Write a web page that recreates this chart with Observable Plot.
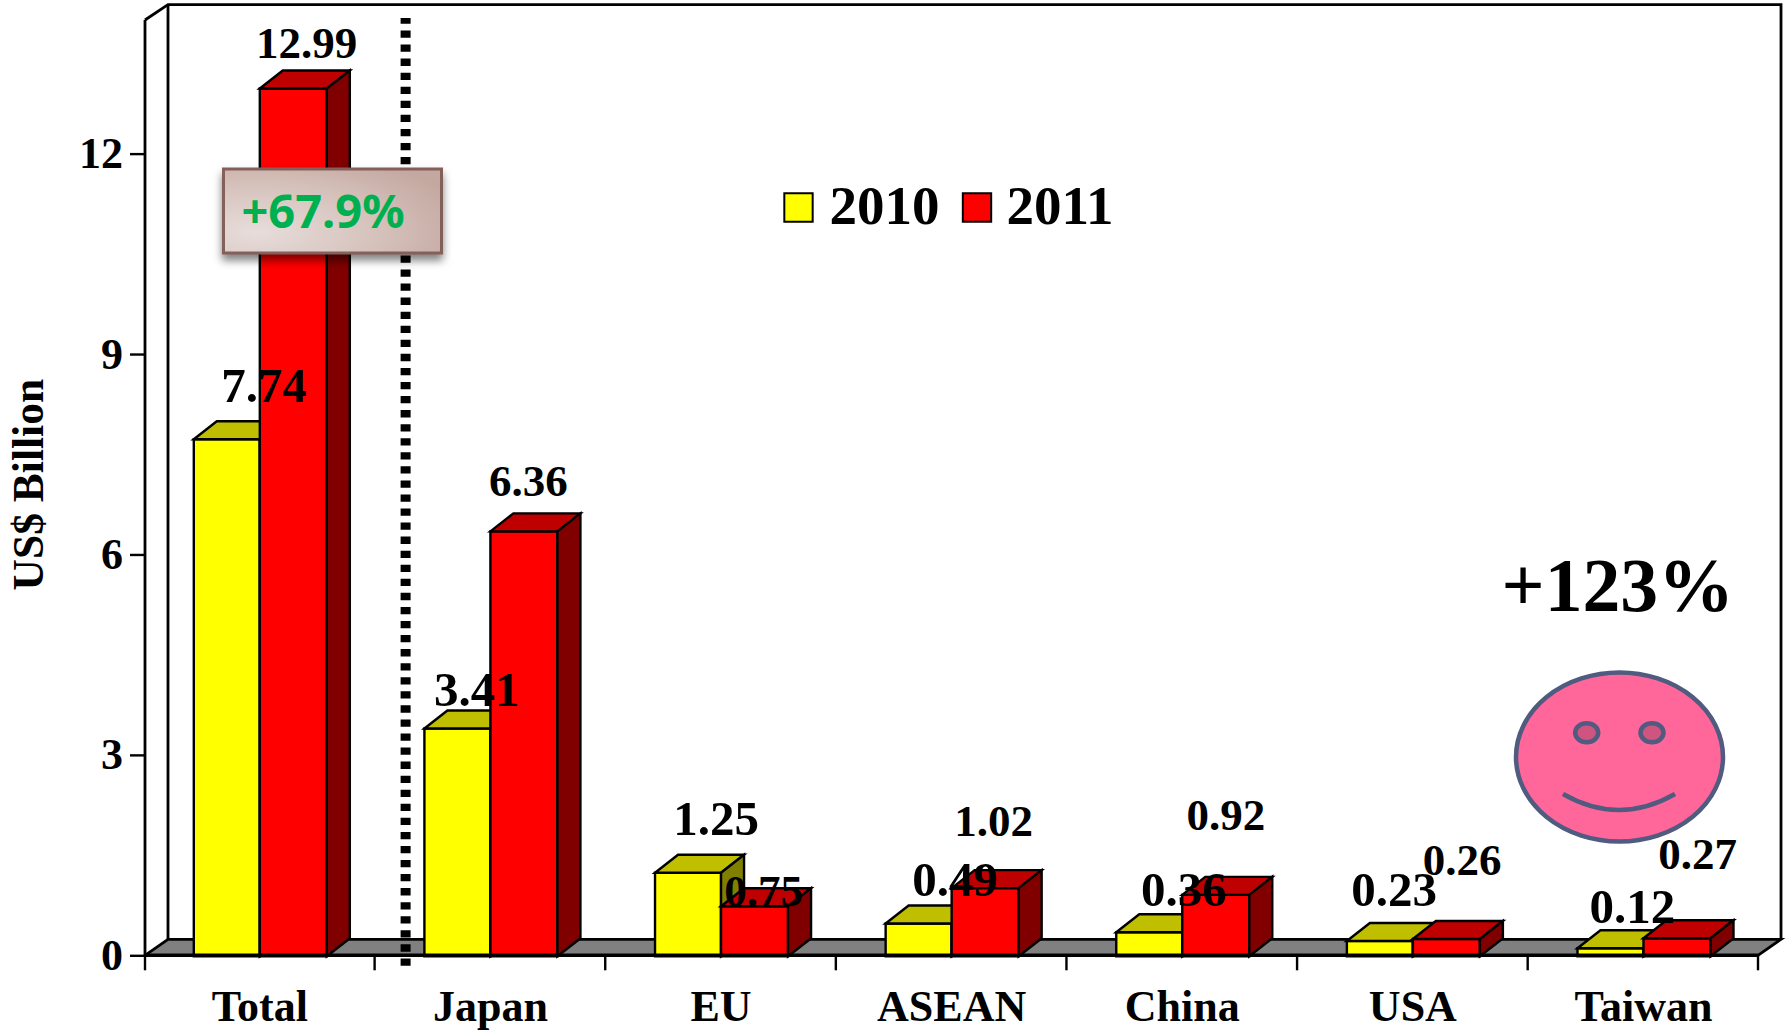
<!DOCTYPE html>
<html>
<head>
<meta charset="utf-8">
<script src="https://cdn.jsdelivr.net/npm/d3@7"></script>
<script src="https://cdn.jsdelivr.net/npm/@observablehq/plot@0.6"></script>
<style>
  html, body { margin: 0; padding: 0; background: #fff; overflow: hidden; }
  svg { display: block; }
</style>
</head>
<body>
<div id="chart"></div>
<script>
const categories = ["Total", "Japan", "EU", "ASEAN", "China", "USA", "Taiwan"];
const values2010 = [7.74, 3.41, 1.25, 0.49, 0.36, 0.23, 0.12];
const values2011 = [12.99, 6.36, 0.75, 1.02, 0.92, 0.26, 0.27];
const yTicks = [0, 3, 6, 9, 12];
const years = ["2010", "2011"];
const totalGrowth = "+67.9%";
const taiwanGrowth = "+123%";
const axisTitle = "US$ Billion";

// label placement, relative to the top of each bar
const nudge2010 = [[4.3, -36.3], [-13.5, -21.5], [-5, -36.8], [3.5, -26.6], [1.5, -25.3], [-18.7, -34], [-11, -24.3]];
const nudge2011 = [[46.7, -29.9], [38, -34.8], [42.5, 0.8], [42, -51.2], [43.5, -64.8], [49.3, -63.9], [54.2, -68.3]];

const rows2010 = categories.map((c, i) => ({category: c, value: values2010[i], nudge: nudge2010[i]}));
const rows2011 = categories.map((c, i) => ({category: c, value: values2011[i], nudge: nudge2011[i]}));

const serif = "'Liberation Serif', 'Times New Roman', serif";
const DX = 23, BAR_DY = 18, FLOOR_DY = 16;
const SVGNS = "http://www.w3.org/2000/svg";

function el(tag, attrs, parent, text) {
  const n = document.createElementNS(SVGNS, tag);
  for (const k in attrs) n.setAttribute(k, attrs[k]);
  if (text != null) n.textContent = text;
  if (parent) parent.appendChild(n);
  return n;
}

// wraps a bar mark so every rect gets a top face and a side face
function box3d(topFill, sideFill) {
  return (index, scales, values, dims, ctx, next) => {
    const g = next(index, scales, values, dims, ctx);
    for (const r of [...g.querySelectorAll("rect")]) {
      const x = +r.getAttribute("x"), y = +r.getAttribute("y");
      const w = +r.getAttribute("width"), h = +r.getAttribute("height");
      el("polygon", {fill: topFill, points: [[x, y], [x + DX, y - BAR_DY], [x + w + DX, y - BAR_DY], [x + w, y]].join(" ")}, g);
      el("polygon", {fill: sideFill, points: [[x + w, y], [x + w + DX, y - BAR_DY], [x + w + DX, y + h - BAR_DY], [x + w, y + h]].join(" ")}, g);
    }
    return g;
  };
}

// back wall, side wall, floor and the left axis line
function chartBox(index, {x, y}, values, dims) {
  const g = el("g", {stroke: "#000", "stroke-width": 2.8, fill: "none"});
  const left = dims.marginLeft, right = dims.width - dims.marginRight;
  const y0 = y(0), yTop = y(14);
  el("path", {d: `M${left},${yTop}L${left + DX},${yTop - 15.3}H${right + DX}V${y0 - FLOOR_DY}`}, g);
  el("path", {d: `M${left + DX},${yTop - 15.3}V${y0 - FLOOR_DY}`}, g);
  el("polygon", {fill: "#808080", points: [[left, y0], [left + DX, y0 - FLOOR_DY], [right + DX, y0 - FLOOR_DY], [right, y0]].join(" ")}, g);
  el("path", {d: `M${left},${yTop}V${y0}`}, g);
  return g;
}

function frontAxis(index, {x, y}, values, dims) {
  const g = el("g", {stroke: "#000", fill: "none"});
  const left = dims.marginLeft, right = dims.width - dims.marginRight;
  const y0 = y(0);
  el("path", {d: `M${left},${y0}H${right}`, "stroke-width": 3.4}, g);
  const edges = categories.map(c => Math.max(left, x(c))).concat(right);
  for (const e of edges) el("path", {d: `M${e},${y0}v15`, "stroke-width": 2.4}, g);
  return g;
}

function growthBox() {
  const g = el("g", {});
  const defs = el("defs", {}, g);
  const grad = el("radialGradient", {id: "boxGrad", cx: "0.15", cy: "0.75", r: "1"}, defs);
  el("stop", {offset: "0", "stop-color": "#E7DDDB"}, grad);
  el("stop", {offset: "0.55", "stop-color": "#D6C2BC"}, grad);
  el("stop", {offset: "1", "stop-color": "#C3A89F"}, grad);
  el("rect", {x: 223.5, y: 169, width: 218, height: 84, fill: "url(#boxGrad)", stroke: "#85605A", "stroke-width": 3,
    style: "filter:drop-shadow(0 6px 4px rgba(0,0,0,.5))"}, g);
  el("text", {x: 323, y: 228, "text-anchor": "middle", fill: "#00B050", "font-family": "'Noto Sans', sans-serif",
    "font-weight": 700, "font-size": 47}, g, totalGrowth);
  return g;
}

function smiley() {
  const g = el("g", {stroke: "#4F5B7F", "stroke-width": 4.5, fill: "none"});
  el("ellipse", {cx: 1619.5, cy: 757, rx: 103.5, ry: 84.5, fill: "#FF6699"}, g);
  el("ellipse", {cx: 1586.7, cy: 732.7, rx: 11.5, ry: 9.5, fill: "#CF5580"}, g);
  el("ellipse", {cx: 1652, cy: 732.7, rx: 11.5, ry: 9.5, fill: "#CF5580"}, g);
  el("path", {d: "M1563,794Q1619,826 1675,794"}, g);
  return g;
}

const bandHalf = 115.3;

function labels(rows, size) {
  return rows.map(d => Plot.text([d], {
    x: "category", y: "value", text: r => r.value.toFixed(2),
    dx: d.nudge[0], dy: d.nudge[1], lineAnchor: "bottom",
    fontSize: size, fontWeight: "bold", fontFamily: serif, fill: "#000"
  }));
}

const legendText = {fontFamily: serif, fontWeight: "bold", fontSize: 55, fill: "#000", frameAnchor: "top-left", lineAnchor: "bottom", textAnchor: "start"};
const legendBox = {frameAnchor: "top-left", symbol: "square", r: 16, stroke: "#000", strokeWidth: 2};

const plot = Plot.plot({
  width: 1790,
  height: 1031,
  marginLeft: 145,
  marginRight: 32,
  marginTop: 20,
  marginBottom: 75.7,
  style: {background: "#fff", overflow: "visible", fontFamily: serif, fontWeight: "bold", color: "#000"},
  x: {type: "band", domain: categories, padding: 0, round: false, range: [144, 1758.3], label: null},
  y: {domain: [0, 14], label: null},
  marks: [
    chartBox,
    Plot.barY(rows2010, {x: "category", y: "value", dy: 1, fill: "#FFFF00", stroke: "#000", strokeWidth: 2.4,
      insetLeft: bandHalf - 65.5, insetRight: bandHalf - 0.5, render: box3d("#BFBF00", "#808000")}),
    Plot.barY(rows2011, {x: "category", y: "value", dy: 1, fill: "#FF0000", stroke: "#000", strokeWidth: 2.4,
      insetLeft: bandHalf + 0.5, insetRight: bandHalf - 67.5, render: box3d("#BF0000", "#800000")}),
    frontAxis,
    Plot.ruleX(["Total"], {y1: -0.156, y2: 14.03, dx: 145.8, stroke: "#000", strokeWidth: 10, strokeDasharray: "7.3 6.76"}),
    Plot.axisY({ticks: yTicks, tickSize: 15, tickPadding: 7.5, fontSize: 44, strokeWidth: 2.4, label: null, anchor: "left"}),
    Plot.axisX({tickSize: 0, tickPadding: 34, fontSize: 44, label: null}),
    Plot.text([axisTitle], {frameAnchor: "left", dx: -103, dy: -3.5, rotate: -90, lineAnchor: "bottom", textAnchor: "middle", fontSize: 43.5, fontWeight: "bold", fontFamily: serif, fill: "#000"}),
    ...labels(rows2010, 49),
    ...labels(rows2011, 45),
    growthBox,
    Plot.dot([years[0]], {...legendBox, fill: "#FFFF00", dx: 798 - 145, dy: 207 - 20}),
    Plot.dot([years[1]], {...legendBox, fill: "#FF0000", dx: 976.5 - 145, dy: 207 - 20}),
    Plot.text([years[0]], {...legendText, text: d => d, dx: 829 - 145, dy: 223 - 20}),
    Plot.text([years[1]], {...legendText, text: d => d, dx: 1006 - 145, dy: 223 - 20}),
    Plot.text([taiwanGrowth], {...legendText, text: d => d, fontSize: 75.7, dx: 1501 - 145, dy: 610 - 20}),
    smiley
  ]
});
document.getElementById("chart").appendChild(plot);
</script>
</body>
</html>
